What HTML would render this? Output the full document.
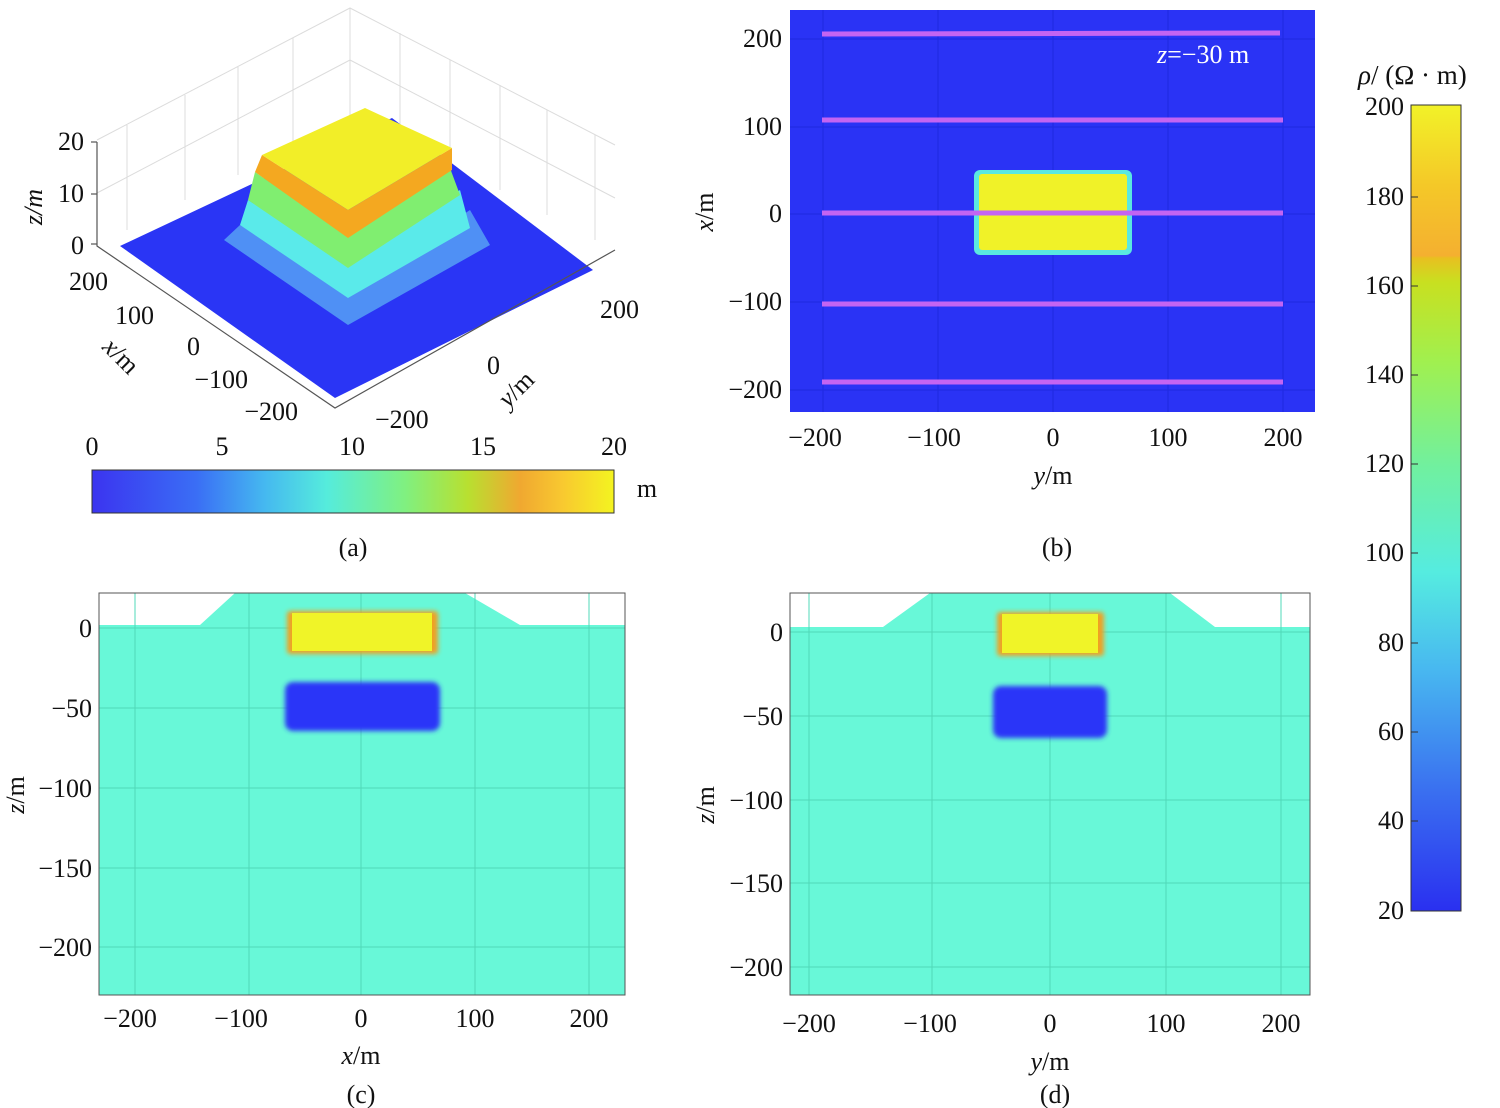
<!DOCTYPE html>
<html><head><meta charset="utf-8"><style>
html,body{margin:0;padding:0;background:#fff;}
svg{display:block;font-family:"Liberation Serif",serif;}
</style></head><body>
<svg width="1500" height="1108" viewBox="0 0 1500 1108" xmlns="http://www.w3.org/2000/svg">
<defs>
<linearGradient id="hb" x1="0" x2="1" y1="0" y2="0">
<stop offset="0" stop-color="#3b34f0"/><stop offset="0.2" stop-color="#3a6ef5"/><stop offset="0.33" stop-color="#45b8f0"/><stop offset="0.45" stop-color="#55ecdc"/><stop offset="0.6" stop-color="#80f080"/><stop offset="0.72" stop-color="#b8e030"/><stop offset="0.82" stop-color="#f0a830"/><stop offset="0.9" stop-color="#f8c830"/><stop offset="1" stop-color="#f4f420"/>
</linearGradient>
<linearGradient id="vb" x1="0" x2="0" y1="1" y2="0">
<stop offset="0" stop-color="#2a30f0"/><stop offset="0.15" stop-color="#3a70f0"/><stop offset="0.3" stop-color="#48b8f0"/><stop offset="0.42" stop-color="#55ece0"/><stop offset="0.55" stop-color="#70f0a0"/><stop offset="0.68" stop-color="#a0f050"/><stop offset="0.78" stop-color="#c8e020"/><stop offset="0.81" stop-color="#e8c020"/><stop offset="0.813" stop-color="#f4b030"/><stop offset="0.9" stop-color="#f4c828"/><stop offset="1" stop-color="#f2f228"/>
</linearGradient>
<filter id="bl"><feGaussianBlur stdDeviation="2.5"/></filter>
</defs>

<!-- (a) 3D -->
<g stroke="#dcdcdc" stroke-width="1" fill="none">
<polyline points="97,140 350,8 615,145"/>
<polyline points="97,193 350,60 615,198"/>
<line x1="350" y1="8" x2="350" y2="115"/>
<line x1="127" y1="125" x2="127" y2="230"/>
<line x1="185" y1="95" x2="185" y2="200"/>
<line x1="238" y1="67" x2="238" y2="175"/>
<line x1="293" y1="38" x2="293" y2="145"/>
<line x1="400" y1="33" x2="400" y2="140"/>
<line x1="450" y1="60" x2="450" y2="165"/>
<line x1="500" y1="85" x2="500" y2="190"/>
<line x1="547" y1="110" x2="547" y2="215"/>
<line x1="595" y1="135" x2="595" y2="240"/>
</g>
<polygon points="120,246 335,398 593,270 392,118" fill="#2a35f5"/>
<polygon points="224,240 348,325 490,245 470,210 348,290 240,225" fill="#4f90f5"/>
<polygon points="240,225 348,298 470,228 460,190 348,262 248,200" fill="#5aeaea"/>
<polygon points="248,200 348,268 460,195 450,168 348,236 255,172" fill="#80ee70"/>
<polygon points="255,172 348,238 452,170 452,148 348,210 262,155" fill="#f4a820"/>
<polygon points="262,155 365,108 452,148 348,210" fill="#f2ee28"/>
<g stroke="#555" stroke-width="1.2" fill="none">
<polyline points="97,142 97,246 335,408 615,250"/>
<line x1="91" y1="142" x2="97" y2="142"/><line x1="91" y1="194" x2="97" y2="194"/><line x1="91" y1="244" x2="97" y2="244"/>
</g>
<g font-size="26" fill="#111">
<text x="84" y="150" text-anchor="end">20</text>
<text x="84" y="202" text-anchor="end">10</text>
<text x="84" y="254" text-anchor="end">0</text>
<text x="108" y="290" text-anchor="end">200</text>
<text x="154" y="324" text-anchor="end">100</text>
<text x="200" y="355" text-anchor="end">0</text>
<text x="248" y="388" text-anchor="end">−100</text>
<text x="298" y="420" text-anchor="end">−200</text>
<text x="375" y="428">−200</text>
<text x="487" y="374">0</text>
<text x="600" y="318">200</text>
<text transform="translate(42,207) rotate(-90)" font-style="italic" text-anchor="middle">z/m</text>
<text transform="translate(115,362) rotate(45)" text-anchor="middle"><tspan font-style="italic">x</tspan>/m</text>
<text transform="translate(522,395) rotate(-45)" text-anchor="middle"><tspan font-style="italic">y</tspan>/m</text>
</g>
<rect x="92" y="470" width="522" height="43" fill="url(#hb)" stroke="#333" stroke-width="1"/>
<g font-size="26" fill="#111" text-anchor="middle">
<text x="92" y="455">0</text><text x="222" y="455">5</text><text x="352" y="455">10</text><text x="483" y="455">15</text><text x="614" y="455">20</text>
<text x="647" y="497">m</text>
<text x="353" y="556">(a)</text>
</g>

<!-- (b) -->
<rect x="790" y="10" width="525" height="402" fill="#2a33f5"/>
<g stroke="#1f2ae0" stroke-width="1">
<line x1="823" y1="10" x2="823" y2="412"/><line x1="938" y1="10" x2="938" y2="412"/><line x1="1053" y1="10" x2="1053" y2="412"/><line x1="1168" y1="10" x2="1168" y2="412"/><line x1="1283" y1="10" x2="1283" y2="412"/>
<line x1="790" y1="39" x2="1315" y2="39"/><line x1="790" y1="127" x2="1315" y2="127"/><line x1="790" y1="214" x2="1315" y2="214"/><line x1="790" y1="302" x2="1315" y2="302"/><line x1="790" y1="390" x2="1315" y2="390"/>
</g>
<rect x="974" y="170" width="158" height="85" rx="6" fill="#5ae8e0"/>
<rect x="979" y="174" width="148" height="76" rx="3" fill="#f0f228"/>
<g stroke="#c464f2" stroke-width="5">
<line x1="822" y1="34" x2="1280" y2="33"/><line x1="822" y1="120" x2="1283" y2="120"/><line x1="822" y1="213" x2="1283" y2="213"/><line x1="822" y1="304" x2="1283" y2="304"/><line x1="822" y1="382" x2="1283" y2="382"/>
</g>
<text x="1157" y="63" font-size="26" fill="#fff"><tspan font-style="italic">z</tspan>=−30 m</text>
<g font-size="26" fill="#111">
<g text-anchor="end"><text x="782" y="47">200</text><text x="782" y="135">100</text><text x="782" y="222">0</text><text x="782" y="310">−100</text><text x="782" y="398">−200</text></g>
<g text-anchor="middle"><text x="815" y="446">−200</text><text x="934" y="446">−100</text><text x="1053" y="446">0</text><text x="1168" y="446">100</text><text x="1283" y="446">200</text>
<text x="1053" y="484"><tspan font-style="italic">y</tspan>/m</text>
<text x="1057" y="556">(b)</text></g>
<text transform="translate(713,212) rotate(-90)" text-anchor="middle"><tspan font-style="italic">x</tspan>/m</text>
</g>

<rect x="1411" y="105" width="50" height="806" fill="url(#vb)" stroke="#333" stroke-width="1"/>
<g font-size="26" fill="#111" text-anchor="end">
<text x="1404" y="115">200</text><text x="1404" y="205">180</text><text x="1404" y="294">160</text><text x="1404" y="383">140</text><text x="1404" y="472">120</text><text x="1404" y="561">100</text><text x="1404" y="651">80</text><text x="1404" y="740">60</text><text x="1404" y="829">40</text><text x="1404" y="919">20</text>
</g>
<g stroke="#333"><line x1="1411" y1="197" x2="1418" y2="197"/><line x1="1411" y1="286" x2="1418" y2="286"/><line x1="1411" y1="375" x2="1418" y2="375"/><line x1="1411" y1="464" x2="1418" y2="464"/><line x1="1411" y1="553" x2="1418" y2="553"/><line x1="1411" y1="643" x2="1418" y2="643"/><line x1="1411" y1="732" x2="1418" y2="732"/><line x1="1411" y1="821" x2="1418" y2="821"/></g>
<text x="1358" y="84" font-size="27" fill="#111"><tspan font-style="italic">ρ</tspan>/ (Ω · m)</text>

<!-- (c) -->
<rect x="99" y="593" width="526" height="402" fill="#68f8d8"/>
<polygon points="99,593 99,625 200,625 235,593" fill="#fff"/>
<polygon points="465,593 520,625 625,625 625,593" fill="#fff"/>
<g stroke="#50d8b8" stroke-width="1">
<line x1="135" y1="593" x2="135" y2="995"/><line x1="249" y1="593" x2="249" y2="995"/><line x1="361" y1="593" x2="361" y2="995"/><line x1="475" y1="593" x2="475" y2="995"/><line x1="589" y1="593" x2="589" y2="995"/>
<line x1="99" y1="628" x2="625" y2="628"/><line x1="99" y1="708" x2="625" y2="708"/><line x1="99" y1="788" x2="625" y2="788"/><line x1="99" y1="868" x2="625" y2="868"/><line x1="99" y1="947" x2="625" y2="947"/>
</g>
<rect x="287" y="611" width="151" height="43" rx="3" fill="#f0a020" filter="url(#bl)"/>
<rect x="292" y="613" width="140" height="38" fill="#f0f428"/>
<rect x="285" y="682" width="155" height="49" rx="8" fill="#2a35f8" filter="url(#bl)"/>
<rect x="99" y="593" width="526" height="402" fill="none" stroke="#555" stroke-width="1"/>
<g font-size="26" fill="#111">
<g text-anchor="end"><text x="92" y="637">0</text><text x="92" y="717">−50</text><text x="92" y="797">−100</text><text x="92" y="877">−150</text><text x="92" y="956">−200</text></g>
<g text-anchor="middle"><text x="130" y="1027">−200</text><text x="241" y="1027">−100</text><text x="361" y="1027">0</text><text x="475" y="1027">100</text><text x="589" y="1027">200</text>
<text x="361" y="1064"><tspan font-style="italic">x</tspan>/m</text><text x="361" y="1103">(c)</text></g>
<text transform="translate(24,795) rotate(-90)" text-anchor="middle"><tspan font-style="italic">z</tspan>/m</text>
</g>

<!-- (d) -->
<rect x="790" y="593" width="520" height="402" fill="#68f8d8"/>
<polygon points="790,593 790,627 883,627 930,593" fill="#fff"/>
<polygon points="1170,593 1215,627 1310,627 1310,593" fill="#fff"/>
<g stroke="#50d8b8" stroke-width="1">
<line x1="809" y1="593" x2="809" y2="995"/><line x1="932" y1="593" x2="932" y2="995"/><line x1="1050" y1="593" x2="1050" y2="995"/><line x1="1166" y1="593" x2="1166" y2="995"/><line x1="1281" y1="593" x2="1281" y2="995"/>
<line x1="790" y1="632" x2="1310" y2="632"/><line x1="790" y1="716" x2="1310" y2="716"/><line x1="790" y1="800" x2="1310" y2="800"/><line x1="790" y1="883" x2="1310" y2="883"/><line x1="790" y1="967" x2="1310" y2="967"/>
</g>
<rect x="997" y="612" width="107" height="44" rx="3" fill="#f0a020" filter="url(#bl)"/>
<rect x="1002" y="614" width="96" height="39" fill="#f0f428"/>
<rect x="993" y="686" width="114" height="52" rx="8" fill="#2a35f8" filter="url(#bl)"/>
<rect x="790" y="593" width="520" height="402" fill="none" stroke="#555" stroke-width="1"/>
<g font-size="26" fill="#111">
<g text-anchor="end"><text x="783" y="641">0</text><text x="783" y="725">−50</text><text x="783" y="809">−100</text><text x="783" y="892">−150</text><text x="783" y="976">−200</text></g>
<g text-anchor="middle"><text x="809" y="1032">−200</text><text x="930" y="1032">−100</text><text x="1050" y="1032">0</text><text x="1166" y="1032">100</text><text x="1281" y="1032">200</text>
<text x="1050" y="1070"><tspan font-style="italic">y</tspan>/m</text><text x="1055" y="1103">(d)</text></g>
<text transform="translate(714,805) rotate(-90)" text-anchor="middle"><tspan font-style="italic">z</tspan>/m</text>
</g>
</svg>
</body></html>
